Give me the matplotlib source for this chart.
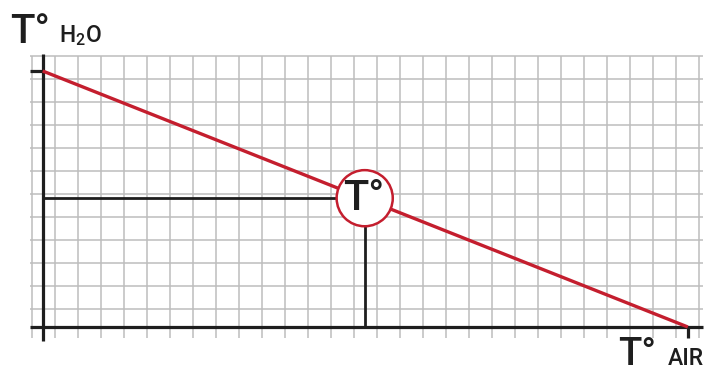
import numpy as np
import matplotlib.pyplot as plt
from matplotlib.patches import Circle

# chart units: one grid square = 1 unit, origin where the two axes cross
line_air = [0.0, 28.05]     # T AIR along the red line
line_h2o = [11.13, 0.0]     # T H2O along the red line
point_air = 14.0            # read-off point
point_h2o = 5.6

grid_x0, grid_nx = -0.465, 30
grid_y0, grid_ny = 0.78, 12

red = '#c41e2e'
dark = '#1e1e1e'
grey = '#bdbdbd'

plt.rcParams['font.family'] = ['Roboto', 'DejaVu Sans']
plt.rcParams['mathtext.default'] = 'regular'

fig = plt.figure(figsize=(7.06, 3.72), dpi=100)
ax = fig.add_axes([0, 0, 1, 1])
ax.set_xlim(-42.7 / 23, (706 - 42.7) / 23)
ax.set_ylim((327 - 372) / 23, 327 / 23)
ax.axis('off')

# background grid
gx = grid_x0 + np.arange(grid_nx)
gy = grid_y0 + np.arange(grid_ny)
ax.vlines(gx, -0.48, gy[-1], color=grey, lw=1.1, zorder=1)
ax.hlines(gy, -0.55, 28.7, color=grey, lw=1.1, zorder=1)

# axes
ax.plot([-0.55, 28.7], [0, 0], color=dark, lw=2.3, solid_capstyle='butt', zorder=2)
ax.plot([0, 0], [-0.6, 11.85], color=dark, lw=2.3, solid_capstyle='butt', zorder=2)
ax.plot([-0.55, 0], [line_h2o[0], line_h2o[0]], color=dark, lw=2.3, solid_capstyle='butt', zorder=2)
ax.plot([line_air[1], line_air[1]], [0, -0.48], color=dark, lw=2.3, solid_capstyle='butt', zorder=2)

# red relation line
ax.plot(line_air, line_h2o, color=red, lw=2.4, solid_capstyle='butt', zorder=3)

# read-off guides
r = 1.22
ax.plot([0, point_air - r], [point_h2o, point_h2o], color=dark, lw=2.0, zorder=3)
ax.plot([point_air, point_air], [0, point_h2o - r], color=dark, lw=2.0, zorder=3)
ax.add_patch(Circle((point_air, point_h2o), r, facecolor='white', edgecolor=red, lw=1.8, zorder=4))
ax.text(point_air - 0.05, point_h2o, 'T°', fontsize=30, fontweight='medium', color=dark,
        ha='center', va='center', zorder=5)

# axis titles
ax.text(-1.42, 12.36, 'T°', fontsize=29, fontweight='medium', color=dark, ha='left', va='baseline')
ax.text(0.72, 12.4, 'H$_2$O', fontsize=16.5, fontweight='medium', color=dark, ha='left', va='baseline')
ax.text(25.0, -1.66, 'T°', fontsize=27.5, fontweight='medium', color=dark, ha='left', va='baseline')
ax.text(27.18, -1.66, 'AIR', fontsize=16.5, fontweight='medium', color=dark, ha='left', va='baseline')

fig.savefig('out.png', dpi=100)
